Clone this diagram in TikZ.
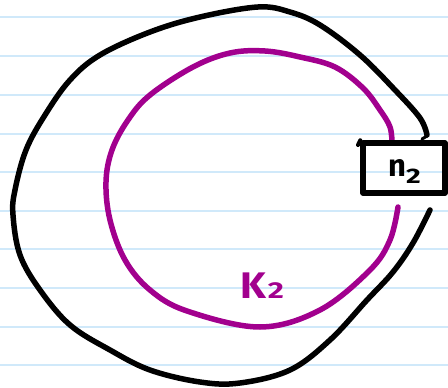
\documentclass[tikz,border=0pt]{standalone}
\usepackage{fontspec}
\setmainfont{Fira Sans}
\definecolor{kpurple}{RGB}{162,0,142}
\definecolor{ruled}{RGB}{208,233,250}
\tikzset{
  ruleline/.style={draw=ruled, line width=2pt},
  knotline/.style={draw=black, line width=5.5pt, line cap=round, line join=round},
  purpleline/.style={draw=kpurple, line width=5.5pt, line cap=round, line join=round},
  boxst/.style={draw=black, line width=5.5pt, inner sep=0pt, minimum width=82pt, minimum height=50pt, line join=round},
}
\begin{document}
\begin{tikzpicture}[x=1pt,y=-1pt]
\useasboundingbox (0,0) rectangle (448,388);
\fill[white] (0,0) rectangle (448,388);
\foreach \yy in {17,56,95,133.5,172,210.5,249,288,326.5,365}
  \draw[ruleline] (0,\yy) -- (448,\yy);
% black loop
\draw[knotline] plot[smooth, tension=0.6] coordinates {
 (427,135) (420,118) (395,90) (360,55) (320,25) (290,12) (258,7) (200,17) (150,32)
 (100,55) (70,80) (45,115) (26,150) (15,190) (13,215) (20,255) (40,290) (70,325)
 (110,350) (150,370) (200,382) (240,383) (290,370) (330,340) (367,300) (393,272)
 (413,243) (430,210)};
\draw[knotline, line width=3pt] (427,136) -- (422,139);
% purple loop
\draw[purpleline] plot[smooth, tension=0.6] coordinates {
 (392,143) (390,127) (380,110) (363,88) (335,67) (300,57) (265,51) (230,53) (193,67)
 (150,95) (128,120) (112,150) (106,182) (110,220) (125,260) (150,290) (187,311)
 (260,327) (320,310) (370,270) (390,240) (398,207)};
% box
\node[boxst] (n2) at (404,168) {};
\draw[knotline, line width=4pt] (358,145) -- (n2.north west);
\node[anchor=base west, inner sep=0pt, font=\bfseries\fontsize{31}{31}\selectfont] (n2label) at (388,176)
  {n\raisebox{-7pt}{\fontsize{21}{21}\selectfont\scalebox{1.35}[1]{2}}};
% label K2
\node[anchor=base west, inner sep=0pt, text=kpurple, font=\bfseries\fontsize{37}{37}\selectfont] (K2label) at (240,298)
  {\scalebox{1.1}[1]{K}\hspace{2pt}\fontsize{23}{23}\selectfont\scalebox{1.35}[1]{2}};
\end{tikzpicture}
\end{document}
